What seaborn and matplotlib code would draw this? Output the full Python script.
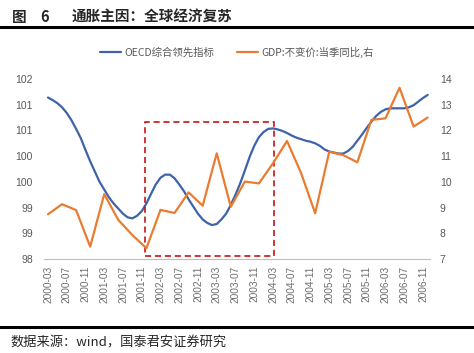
import numpy as np
import pandas as pd
import seaborn as sns
import matplotlib.pyplot as plt
from matplotlib.lines import Line2D
from matplotlib.patches import Rectangle

# OECD composite leading indicator, monthly 2000-03 .. 2006-12
oecd_start = '2000-03'
oecd_values = [
    101.14, 101.09, 101.03, 100.95, 100.84, 100.70, 100.53, 100.35, 100.12, 99.90,
    99.70, 99.50, 99.35, 99.20, 99.08, 98.98, 98.88, 98.81, 98.79, 98.84,
    98.93, 99.08, 99.27, 99.45, 99.58, 99.64, 99.64, 99.57, 99.45, 99.32,
    99.16, 99.02, 98.88, 98.77, 98.70, 98.66, 98.68, 98.77, 98.88, 99.05,
    99.25, 99.47, 99.72, 99.98, 100.20, 100.37, 100.47, 100.53, 100.54, 100.52,
    100.49, 100.45, 100.40, 100.36, 100.33, 100.30, 100.28, 100.25, 100.20, 100.13,
    100.09, 100.07, 100.05, 100.05, 100.10, 100.18, 100.30, 100.42, 100.55, 100.67,
    100.78, 100.86, 100.91, 100.93, 100.93, 100.93, 100.93, 100.95, 100.99, 101.06,
    101.13, 101.19,
]

# GDP constant price yoy (quarterly, right axis), 2000-03 .. 2006-12
gdp_values = [
    8.74, 9.13, 8.90, 7.48, 9.52, 8.52, 7.93, 7.42, 8.91, 8.79,
    9.59, 9.07, 11.11, 9.03, 10.01, 9.94, 10.72, 11.59, 10.34, 8.78,
    11.17, 11.04, 10.76, 12.41, 12.47, 13.66, 12.15, 12.50,
]

left_ticks = [98.0, 98.5, 99.0, 99.5, 100.0, 100.5, 101.0, 101.5]
left_tick_labels = ['98', '99', '99', '100', '100', '101', '101', '102']
right_ticks = [7, 8, 9, 10, 11, 12, 13, 14]

# highlighted period (dashed box)
box_start, box_end = '2001-11-23', '2004-03-10'
box_low, box_high = 98.06, 100.66

title_fig = '图'
title_num = '6'
title_text = '通胀主因：全球经济复苏'
source_text = '数据来源：wind，国泰君安证券研究'
oecd_label = 'OECD综合领先指标'
gdp_label = 'GDP:不变价:当季同比,右'

# ---------------------------------------------------------------------------
months = pd.date_range(oecd_start, periods=len(oecd_values), freq='MS')
df_oecd = pd.DataFrame({'idx': np.arange(len(oecd_values)), 'v': oecd_values})
df_gdp = pd.DataFrame({'idx': np.arange(len(gdp_values)) * 3, 'v': gdp_values})


def month_pos(s):
    d = pd.Timestamp(s)
    base = pd.Timestamp(oecd_start)
    return (d.year - base.year) * 12 + (d.month - base.month) + (d.day - 1) / 30.0


sns.set_style('white')
plt.rcParams['font.family'] = ['Noto Sans CJK SC', 'DejaVu Sans']

fig = plt.figure(figsize=(4.74, 3.53), dpi=100)
ax = fig.add_axes([44 / 474, 1 - 259 / 353, 386 / 474, 180 / 353])
ax2 = ax.twinx()

blue = '#3E63A9'
orange = '#E97C30'
gray = '#595959'

sns.lineplot(data=df_oecd, x='idx', y='v', ax=ax, color=blue, linewidth=1.6,
             label=oecd_label, legend=False)
sns.lineplot(data=df_gdp, x='idx', y='v', ax=ax2, color=orange, linewidth=1.6,
             label=gdp_label, legend=False)

ax.set_xlim(-0.85, 81.5)
ax.set_ylim(98, 101.5)
ax2.set_ylim(7, 14)

xt = np.arange(0, len(oecd_values), 4)
ax.set_xticks(xt)
ax.set_xticklabels([months[i].strftime('%Y-%m') for i in xt], rotation=90,
                   fontsize=7.3, color='#6E6E6E', family='Liberation Sans')
ax.set_yticks(left_ticks)
ax.set_yticklabels(left_tick_labels, fontsize=7.5, color=gray, family='Liberation Sans')
ax2.set_yticks(right_ticks)
ax2.set_yticklabels([str(t) for t in right_ticks], fontsize=7.5, color=gray,
                    family='Liberation Sans')

ax.tick_params(axis='x', length=3, width=0.6, color='#BFBFBF', pad=2, direction='out')
ax.tick_params(axis='y', length=0, pad=8)
ax2.tick_params(axis='y', length=0, pad=7)
ax.set_xlabel('')
ax.set_ylabel('')
ax2.set_ylabel('')

for a in (ax, ax2):
    for side in ('top', 'left', 'right'):
        a.spines[side].set_visible(False)
    a.spines['bottom'].set_color('#BFBFBF')
    a.spines['bottom'].set_linewidth(0.8)
ax2.spines['bottom'].set_visible(False)

# dashed highlight box
x0, x1 = month_pos(box_start), month_pos(box_end)
ax.add_patch(Rectangle((x0, box_low), x1 - x0, box_high - box_low, fill=False,
                       edgecolor='#C00000', linestyle=(0, (4, 2.5)), linewidth=1.1,
                       zorder=5))

# legend
handles = [Line2D([], [], color=blue, lw=1.6), Line2D([], [], color=orange, lw=1.6)]
leg = fig.legend(handles, [oecd_label, gdp_label], loc='center',
                 bbox_to_anchor=(0.5, 1 - 52 / 353), ncol=2, frameon=False,
                 fontsize=7.5, handlelength=2.0, handletextpad=0.3, columnspacing=2.2)
for t in leg.get_texts():
    t.set_color(gray)

# title and source
fig.text(12 / 474, 1 - 17 / 353, title_fig, fontsize=10.5, fontweight='bold',
         va='center', ha='left')
fig.text(40 / 474, 1 - 17 / 353, title_num, fontsize=10.5, fontweight='bold',
         va='center', ha='left')
fig.text(72 / 474, 1 - 17 / 353, title_text, fontsize=10.5, fontweight='bold',
         va='center', ha='left')
fig.add_artist(Line2D([0, 1], [1 - 27 / 353, 1 - 27 / 353], color='black', lw=2.2))
fig.add_artist(Line2D([0, 1], [1 - 327 / 353, 1 - 327 / 353], color='black', lw=2.2))
fig.text(10 / 474, 1 - 343 / 353, source_text, fontsize=9.5, va='center', ha='left')

fig.savefig('out.png', dpi=100)
